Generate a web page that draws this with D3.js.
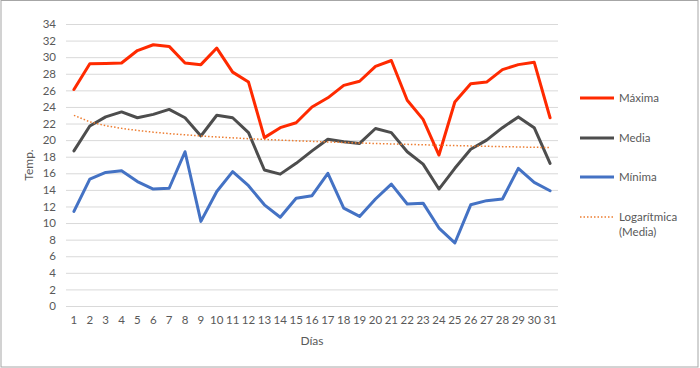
<!DOCTYPE html>
<html><head><meta charset="utf-8">
<script src="https://cdn.jsdelivr.net/npm/d3@7"></script>
<style>body{margin:0;background:#fff}svg{display:block}text{font-family:Lato,"Open Sans",sans-serif}</style>
</head><body><svg id="c" width="700" height="368"></svg>
<script>
const days = d3.range(1, 32).map(String);
const maxima = [26.1,29.2,29.25,29.3,30.8,31.5,31.3,29.3,29.1,31.1,28.2,27.0,20.3,21.5,22.1,24.0,25.1,26.6,27.1,28.9,29.6,24.8,22.5,18.2,24.6,26.8,27.0,28.5,29.1,29.4,22.7];
const media = [18.7,21.7,22.8,23.4,22.7,23.1,23.7,22.7,20.5,23.0,22.7,20.9,16.4,15.9,17.2,18.7,20.1,19.8,19.6,21.4,20.9,18.6,17.1,14.1,16.6,18.9,20.0,21.5,22.8,21.5,17.2];
const minima = [11.4,15.3,16.1,16.3,15.0,14.1,14.2,18.6,10.2,13.8,16.2,14.5,12.2,10.7,13.0,13.3,16.0,11.8,10.8,12.9,14.7,12.3,12.4,9.4,7.6,12.2,12.7,12.9,16.6,14.9,13.9];
const yTicks = d3.range(0, 35, 2);
const seriesNames = ["Máxima","Media","Mínima"];
const trendName = ["Logarítmica","(Media)"];

const svg = d3.select("#c");
svg.append("rect").attr("x",1).attr("y",0.5).attr("width",697).attr("height",366.5)
  .attr("fill","#fff").attr("stroke","#a6a6a6").attr("stroke-width",1);

const x = d3.scaleBand().domain(days).range([66,558]);
const y = d3.scaleLinear().domain([0,34]).range([306,24]);
const cx = d => x(d) + x.bandwidth()/2;

// grid
const yAxis = d3.axisLeft(y).tickValues(yTicks).tickSize(-(558-66)).tickPadding(10);
const gy = svg.append("g").attr("transform","translate(66,0)").call(yAxis);
gy.select(".domain").remove();
gy.selectAll("line").attr("stroke","#d9d9d9").attr("stroke-width",1);
gy.selectAll("text").attr("fill","#595959").attr("font-size",11.5);

const xAxis = d3.axisBottom(x).tickSize(0).tickPadding(10);
const gx = svg.append("g").attr("transform","translate(0,306)").call(xAxis);
gx.select(".domain").remove();
gx.selectAll("text").attr("fill","#595959").attr("font-size",11.5);

// trendline (log regression of Media)
const lx = days.map(d => Math.log(+d));
const mlx = d3.mean(lx), my = d3.mean(media);
const b = d3.sum(lx.map((v,i)=>(v-mlx)*(media[i]-my))) / d3.sum(lx.map(v=>(v-mlx)**2));
const a = my - b*mlx;
const trend = days.map(d => a + b*Math.log(+d));

const line = d3.line().x((v,i)=>cx(days[i])).y(v=>y(v));
const colors = ["#ff2a00","#4d4d4d","#4472c4"];
[maxima, media, minima].forEach((s,i)=>{
  svg.append("path").datum(s).attr("d",line).attr("fill","none")
    .attr("stroke",colors[i]).attr("stroke-width",3).attr("stroke-linejoin","round").attr("stroke-linecap","round");
});
svg.append("path").datum(trend).attr("d",line).attr("fill","none")
  .attr("stroke","#ed7d31").attr("stroke-width",1.5).attr("stroke-dasharray","1.5,2");

// axis titles
svg.append("text").attr("x",312).attr("y",345).attr("text-anchor","middle")
  .attr("fill","#595959").attr("font-size",12).text("Días");
svg.append("text").attr("transform","translate(33,165) rotate(-90)").attr("text-anchor","middle")
  .attr("fill","#595959").attr("font-size",12).text("Temp.");

// legend
const ly = [98,138,177];
seriesNames.forEach((n,i)=>{
  svg.append("line").attr("x1",580).attr("x2",614).attr("y1",ly[i]).attr("y2",ly[i])
    .attr("stroke",colors[i]).attr("stroke-width",3);
  svg.append("text").attr("x",619).attr("y",ly[i]+4).attr("fill","#595959").attr("font-size",11.5).text(n);
});
svg.append("line").attr("x1",580).attr("x2",614).attr("y1",217).attr("y2",217)
  .attr("stroke","#ed7d31").attr("stroke-width",1.5).attr("stroke-dasharray","1.5,2");
trendName.forEach((t,i)=>{
  svg.append("text").attr("x",619).attr("y",221+i*15).attr("fill","#595959").attr("font-size",11.5).text(t);
});
</script></body></html>
